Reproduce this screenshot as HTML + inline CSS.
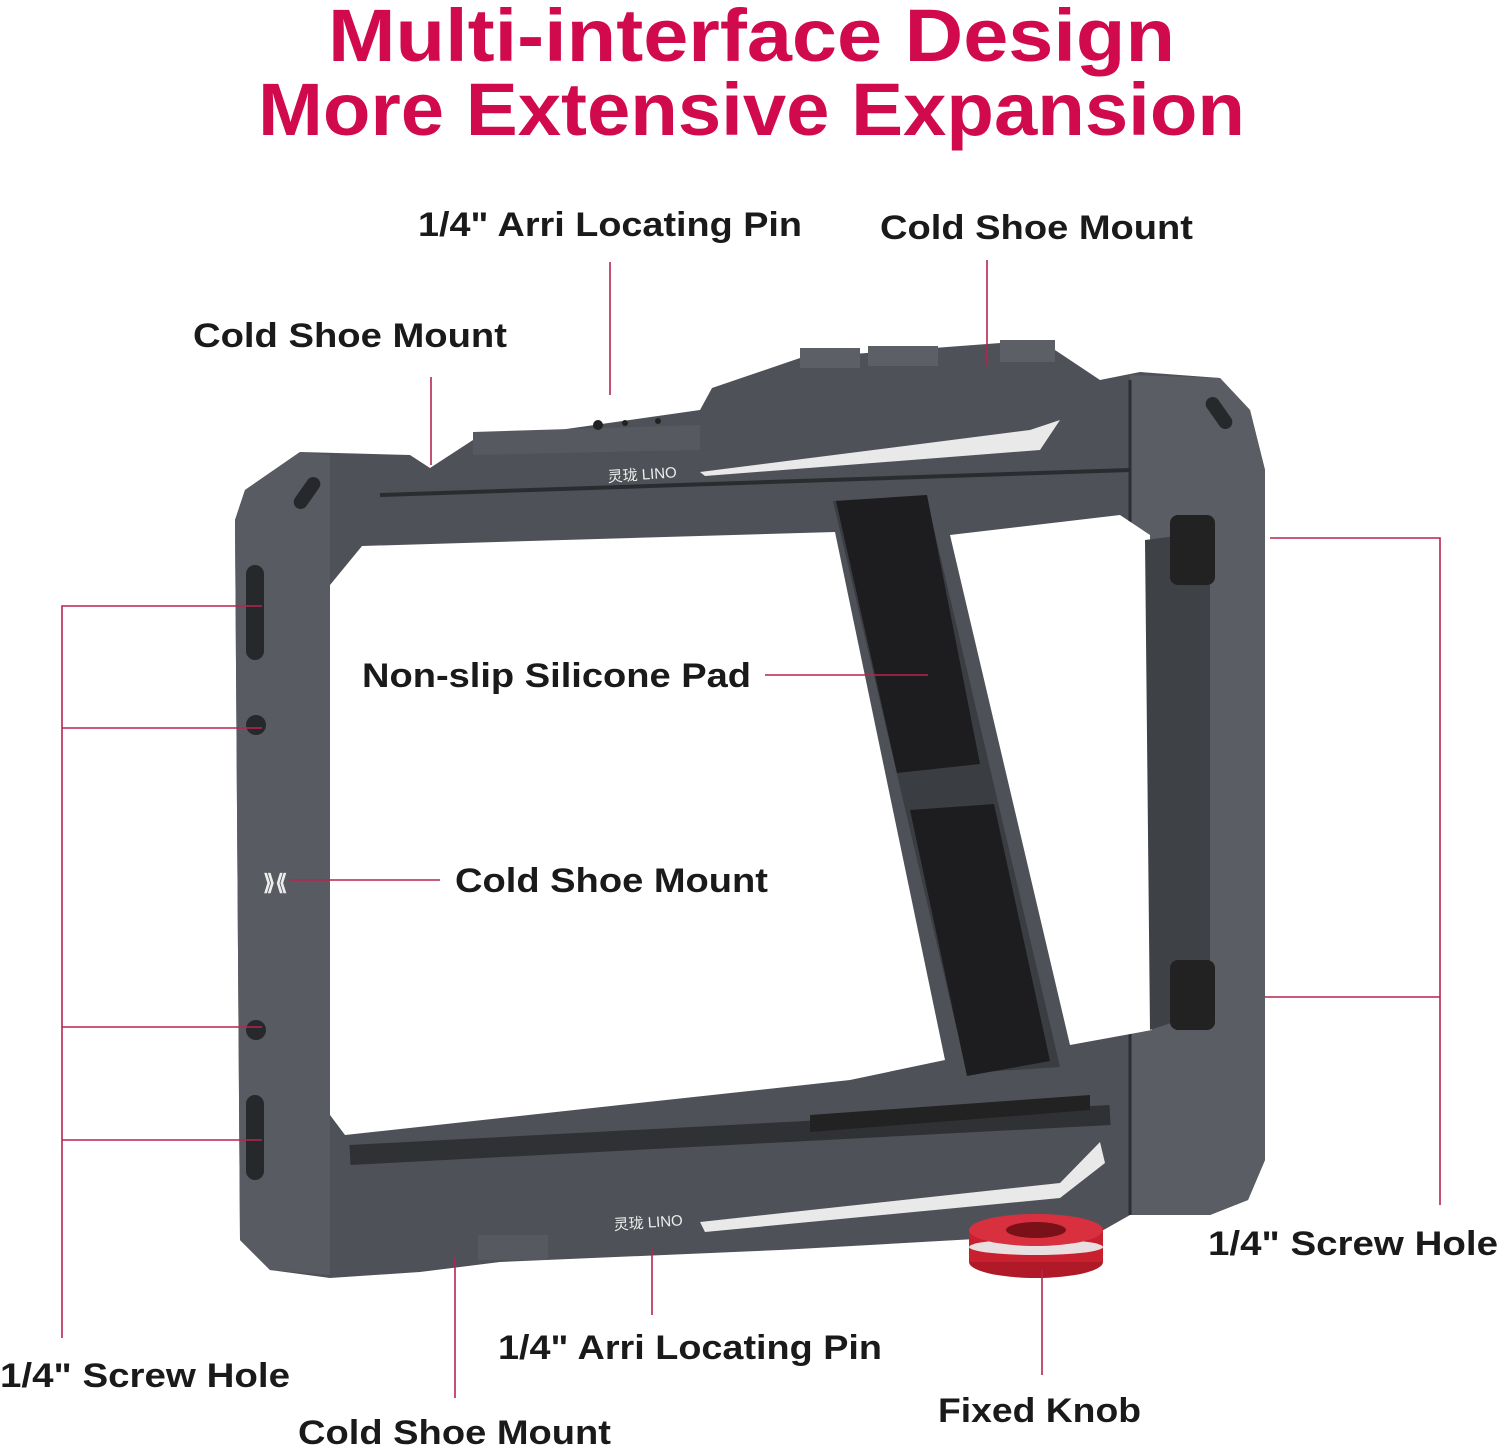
<!DOCTYPE html>
<html><head><meta charset="utf-8"><style>
html,body{margin:0;padding:0;background:#fff;}
svg{display:block;}
.t{font-family:"Liberation Sans",sans-serif;font-weight:bold;fill:#d10a4e;}
.l{font-family:"Liberation Sans","Noto Sans CJK SC",sans-serif;font-weight:bold;fill:#1a1a1a;font-size:34px;}
.ln{stroke:#b8244f;stroke-width:1.6;fill:none;}
</style></head><body>
<svg width="1500" height="1449" viewBox="0 0 1500 1449" xmlns="http://www.w3.org/2000/svg">
<text class="t" x="328" y="61" font-size="74" textLength="847" lengthAdjust="spacingAndGlyphs">Multi-interface Design</text>
<text class="t" x="258" y="135" font-size="74" textLength="987" lengthAdjust="spacingAndGlyphs">More Extensive Expansion</text>

<!-- cage outer -->
<path d="M245,490 L300,452 L410,455 L430,468 L473,440 L545,432 L700,410 L712,388 L800,358 L1040,340 L1100,380 L1140,372 L1220,378 L1250,410 L1265,470 L1265,1160 L1248,1200 L1210,1215 L1130,1215 L1100,1232 L780,1250 L500,1262 L420,1272 L330,1278 L270,1270 L240,1240 L235,520 Z" fill="#4e5157"/>
<path d="M245,490 L300,452 L330,455 L330,1275 L270,1270 L240,1240 L235,520 Z" fill="#585b61"/>
<path d="M1130,375 L1220,378 L1250,410 L1265,470 L1265,1160 L1248,1200 L1210,1215 L1130,1215 Z" fill="#5a5d63"/>
<line x1="1130" y1="380" x2="1130" y2="1215" stroke="#2c2e31" stroke-width="3"/>
<!-- top cold shoes -->
<rect x="800" y="348" width="60" height="20" fill="#5c5f65"/>
<rect x="868" y="346" width="70" height="20" fill="#5c5f65"/>
<rect x="1000" y="340" width="55" height="22" fill="#5c5f65"/>
<path d="M473,432 L700,425 L700,450 L473,455 Z" fill="#56595f"/>
<circle cx="598" cy="425" r="5" fill="#222"/><circle cx="625" cy="423" r="3" fill="#222"/><circle cx="658" cy="421" r="3" fill="#222"/>
<!-- top stripe -->
<path d="M700,472 L1030,430 L1060,420 L1040,450 L705,476 Z" fill="#e9e9ea"/>
<path d="M380,495 L1130,470" stroke="#2a2c30" stroke-width="4"/>
<text x="608" y="482" font-family="Liberation Sans,Noto Sans CJK SC,sans-serif" font-size="15" fill="#eee" transform="rotate(-4 608 482)">灵珑 LINO</text>
<!-- bottom stripe -->
<path d="M700,1222 L1060,1183 L1100,1142 L1105,1163 L1060,1198 L705,1232 Z" fill="#e9e9ea"/>
<text x="614" y="1230" font-family="Liberation Sans,Noto Sans CJK SC,sans-serif" font-size="15" fill="#eee" transform="rotate(-4 614 1230)">灵珑 LINO</text>
<path d="M350,1155 L1110,1115" stroke="#2f3135" stroke-width="20"/>
<!-- bottom shoe -->
<rect x="478" y="1235" width="70" height="25" fill="#56595f"/>
<!-- windows -->
<path d="M330,585 L362,546 L835,532 L945,1060 L850,1080 L345,1135 L330,1115 Z" fill="#fff"/>
<path d="M950,535 L1120,515 L1150,535 L1152,1030 L1070,1045 Z" fill="#fff"/>
<path d="M1145,540 L1185,535 L1210,560 L1210,1010 L1150,1030 Z" fill="#3e4146"/>
<!-- grip -->
<path d="M833,501 L926,495 L1060,1067 L967,1073 Z" fill="#3a3d42"/>
<path d="M836,501 L927,495 L980,764 L897,773 Z" fill="#1d1d1f"/>
<path d="M910,810 L994,804 L1050,1061 L967,1076 Z" fill="#1d1d1f"/>
<path d="M810,1115 L1090,1095 L1090,1110 L810,1132 Z" fill="#222"/>
<rect x="1170" y="515" width="45" height="70" rx="8" fill="#222"/>
<rect x="1170" y="960" width="45" height="70" rx="8" fill="#222"/>
<!-- left holes -->
<rect x="246" y="565" width="18" height="95" rx="9" fill="#26282b"/>
<circle cx="256" cy="725" r="10" fill="#26282b"/>
<circle cx="256" cy="1030" r="10" fill="#26282b"/>
<rect x="246" y="1095" width="18" height="85" rx="9" fill="#26282b"/>
<rect x="300" y="475" width="14" height="36" rx="7" fill="#26282b" transform="rotate(35 307 493)"/>
<rect x="1212" y="395" width="14" height="36" rx="7" fill="#26282b" transform="rotate(-35 1219 413)"/>
<text x="263" y="890" font-family="Liberation Sans,sans-serif" font-size="22" font-weight="bold" fill="#eee">⟫⟪</text>
<!-- knob -->
<ellipse cx="1036" cy="1262" rx="67" ry="16" fill="#b01a28"/>
<rect x="969" y="1230" width="134" height="32" fill="#c8202e"/>
<ellipse cx="1036" cy="1247" rx="67" ry="8" fill="#e8e0e0"/>
<ellipse cx="1036" cy="1230" rx="67" ry="16" fill="#d93040"/>
<ellipse cx="1036" cy="1230" rx="30" ry="8" fill="#7a1018"/>

<!-- leader lines -->
<line class="ln" x1="610" y1="262" x2="610" y2="395"/>
<line class="ln" x1="987" y1="260" x2="987" y2="365"/>
<line class="ln" x1="431" y1="377" x2="431" y2="465"/>
<line class="ln" x1="765" y1="675" x2="928" y2="675"/>
<line class="ln" x1="290" y1="880" x2="440" y2="880"/>
<path class="ln" d="M262,606 H62 V1338 M62,728 H262 M62,1027 H262 M62,1140 H262"/>
<path class="ln" d="M1270,538 H1440 V1205 M1265,997 H1440"/>
<line class="ln" x1="652" y1="1250" x2="652" y2="1315"/>
<line class="ln" x1="455" y1="1258" x2="455" y2="1398"/>
<line class="ln" x1="1042" y1="1270" x2="1042" y2="1375"/>

<!-- labels -->
<text class="l" x="418" y="236" textLength="384" lengthAdjust="spacingAndGlyphs">1/4" Arri Locating Pin</text>
<text class="l" x="880" y="239" textLength="313" lengthAdjust="spacingAndGlyphs">Cold Shoe Mount</text>
<text class="l" x="193" y="347" textLength="314" lengthAdjust="spacingAndGlyphs">Cold Shoe Mount</text>
<text class="l" x="362" y="687" textLength="389" lengthAdjust="spacingAndGlyphs">Non-slip Silicone Pad</text>
<text class="l" x="455" y="892" textLength="313" lengthAdjust="spacingAndGlyphs">Cold Shoe Mount</text>
<text class="l" x="1208" y="1255" textLength="290" lengthAdjust="spacingAndGlyphs">1/4" Screw Hole</text>
<text class="l" x="0" y="1387" textLength="290" lengthAdjust="spacingAndGlyphs">1/4" Screw Hole</text>
<text class="l" x="498" y="1359" textLength="384" lengthAdjust="spacingAndGlyphs">1/4" Arri Locating Pin</text>
<text class="l" x="298" y="1444" textLength="313" lengthAdjust="spacingAndGlyphs">Cold Shoe Mount</text>
<text class="l" x="938" y="1422" textLength="203" lengthAdjust="spacingAndGlyphs">Fixed Knob</text>
</svg>
</body></html>
